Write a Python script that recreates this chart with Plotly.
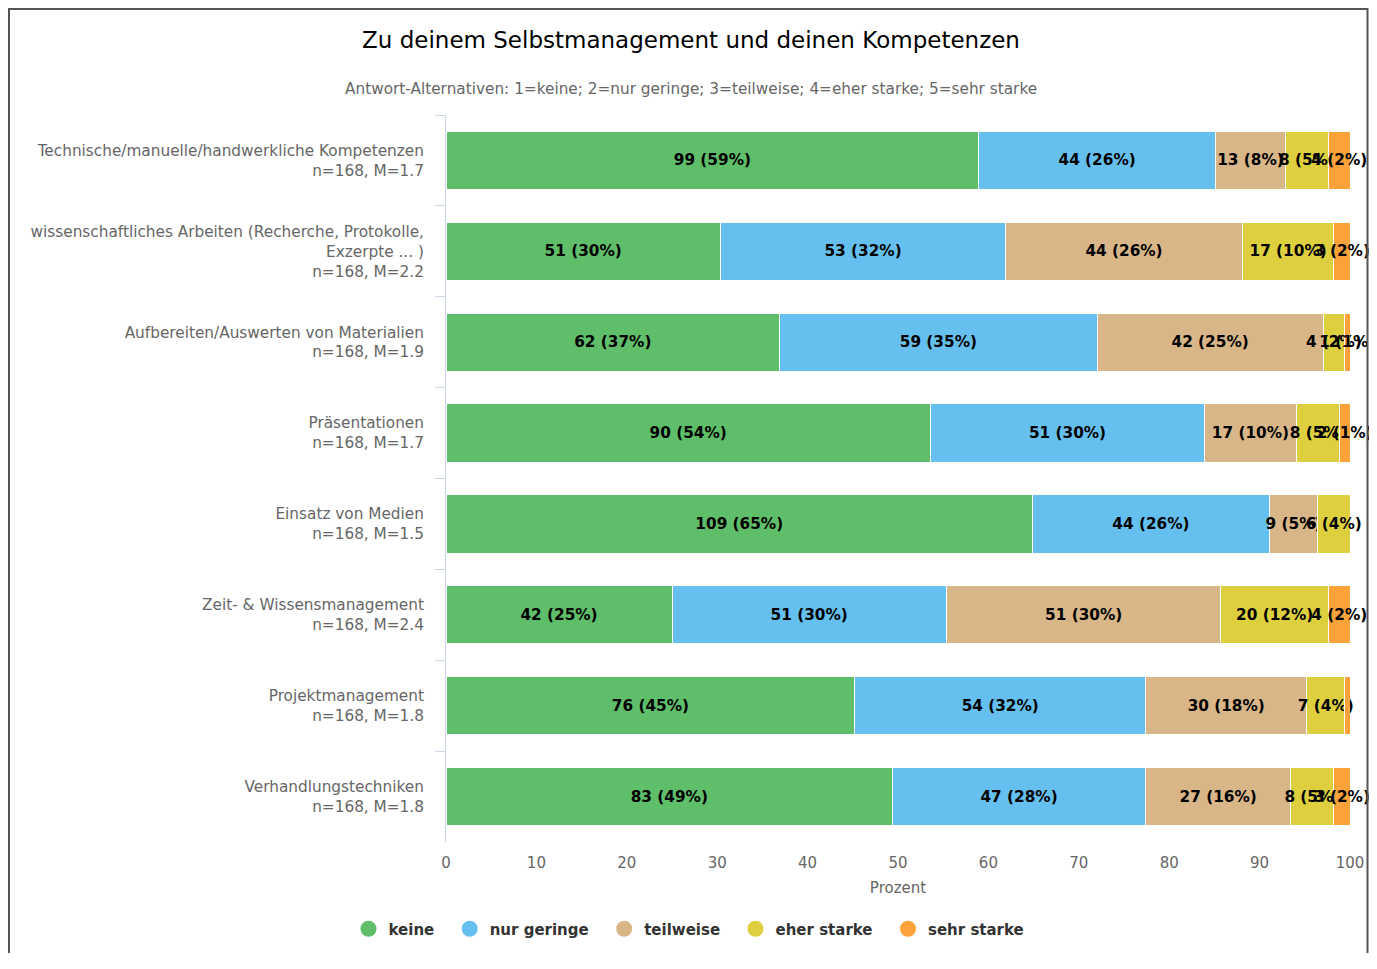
import plotly.graph_objects as go

# Fragen (Kategorien) in Reihenfolge von oben nach unten
fragen = [
    "Technische/manuelle/handwerkliche Kompetenzen",
    "wissenschaftliches Arbeiten (Recherche, Protokolle,<br>Exzerpte ... )",
    "Aufbereiten/Auswerten von Materialien",
    "Präsentationen",
    "Einsatz von Medien",
    "Zeit- & Wissensmanagement",
    "Projektmanagement",
    "Verhandlungstechniken",
]

antworten = ["keine", "nur geringe", "teilweise", "eher starke", "sehr starke"]
farben = ["#5fbe69", "#66c0ef", "#d8b688", "#ddcf3e", "#fba23b"]

# Anzahl Antworten je Alternative (1..5), eine Liste pro Antwort-Alternative
keine = [99, 51, 62, 90, 109, 42, 76, 83]
nur_geringe = [44, 53, 59, 51, 44, 51, 54, 47]
teilweise = [13, 44, 42, 17, 9, 51, 30, 27]
eher_starke = [8, 17, 4, 8, 6, 20, 7, 8]
sehr_starke = [4, 3, 1, 2, 0, 4, 1, 3]

serien = [keine, nur_geringe, teilweise, eher_starke, sehr_starke]

titel = "Zu deinem Selbstmanagement und deinen Kompetenzen"
untertitel = "Antwort-Alternativen: 1=keine; 2=nur geringe; 3=teilweise; 4=eher starke; 5=sehr starke"

FONT = "DejaVu Sans"
GRAU = "#666666"

# die Seite hat 8px Rand, die Figur ist darum etwas kleiner als das Fenster
W, H = 1361, 945
L, R, T, B = 438, 19, 107, 111
PW, PH = W - L - R, H - T - B

# Achsenbeschriftung: Frage + n und Mittelwert
n_werte = [sum(s[i] for s in serien) for i in range(len(fragen))]
mittel = [
    sum((k + 1) * serien[k][i] for k in range(5)) / n_werte[i]
    for i in range(len(fragen))
]
labels = [f"{f}<br>n={n}, M={m:.1f}" for f, n, m in zip(fragen, n_werte, mittel)]

fig = go.Figure()

for name, werte, farbe in zip(antworten, serien, farben):
    prozent = [w / n * 100 for w, n in zip(werte, n_werte)]
    texte = [f"{w} ({round(p)}%)" if w > 0 else "" for w, p in zip(werte, prozent)]
    fig.add_trace(go.Bar(
        y=labels,
        x=prozent,
        orientation="h",
        name=name,
        marker=dict(color=farbe, line=dict(color="white", width=1)),
        text=texte,
        textposition="inside",
        insidetextanchor="middle",
        textangle=0,
        constraintext="none",
        textfont=dict(family=FONT, size=15.3, color="#000000", weight="bold"),
        cliponaxis=False,
        showlegend=False,
        hoverinfo="skip",
    ))

# Legende mit runden Symbolen (wie im Original);
# geschützte Leerzeichen geben etwas mehr Abstand zwischen den Einträgen
for name, farbe in zip(antworten, farben):
    fig.add_trace(go.Scatter(
        x=[None], y=[None], mode="markers", name=name + "\u00a0\u00a0",
        marker=dict(color=farbe, size=16, symbol="circle"),
    ))

fig.update_layout(
    width=W,
    height=H,
    barmode="stack",
    bargap=0.36,
    paper_bgcolor="white",
    plot_bgcolor="white",
    font=dict(family=FONT, color=GRAU),
    margin=dict(l=L, r=R, t=T, b=B),
    title=dict(
        text=titel, x=(691 - 8) / W, xanchor="center", y=1 - 32 / H, yanchor="middle",
        font=dict(family=FONT, size=23, color="#000000"),
    ),
    legend=dict(
        orientation="h", xref="container", yref="container", traceorder="normal",
        x=(694 - 8) / W, xanchor="center", y=1 - 921 / H, yanchor="middle",
        font=dict(family=FONT, size=15, color="#333333", weight="bold"),
    ),
    xaxis=dict(
        range=[0, 100], dtick=10, showgrid=False, zeroline=False,
        showline=False, ticks="", ticklabelstandoff=10, automargin=False,
        tickfont=dict(family=FONT, size=15, color=GRAU),
        title=dict(text="Prozent", font=dict(family=FONT, size=15, color=GRAU), standoff=11),
    ),
    yaxis=dict(
        autorange="reversed", showgrid=False, automargin=False,
        showline=True, linecolor="#ccd6eb", linewidth=1,
        ticks="outside", ticklen=10, tickcolor="#ccd6eb", tickson="boundaries",
        tickfont=dict(family=FONT, size=15.3, color=GRAU),
        ticklabelstandoff=18,
    ),
    annotations=[dict(
        text=untertitel, xref="paper", yref="paper",
        x=(683 - L) / PW, y=(H - B - 81) / PH,
        xanchor="center", yanchor="middle", showarrow=False,
        font=dict(family=FONT, size=15.3, color=GRAU),
    )],
    shapes=[dict(
        type="rect", xref="paper", yref="paper",
        x0=(1 - L) / PW, x1=(W - 1.5 - L) / PW,
        y0=(H - B - 975) / PH, y1=(H - B - 1) / PH,
        line=dict(color="#555555", width=2),
    )],
)

fig.write_html("out.html")
